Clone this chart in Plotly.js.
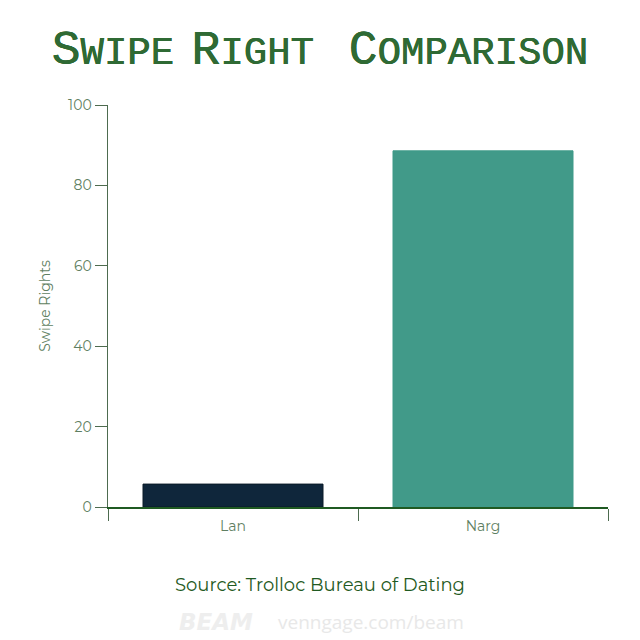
<!DOCTYPE html>
<html><head><meta charset="utf-8">
<script src="https://cdn.plot.ly/plotly-3.0.1.min.js"></script>
<style>html,body{margin:0;padding:0;background:#fff}</style>
</head><body>
<div id="chart" style="width:640px;height:640px"></div>
<script>
const categories = ["Lan", "Narg"];
const swipeRights = [5.7, 88.6];
const barColors = ["#0f263b", "#419a89"];
const yTicks = [0, 20, 40, 60, 80, 100];
const titleWords = [["S", "WIPE"], ["R", "IGHT"], ["C", "OMPARISON"]];
const titleSeparators = ["", " ", "  "];

const titleText = titleWords
  .map((w, i) => (titleSeparators[i] ? '<span style="font-size:29px">' + titleSeparators[i] + '</span>' : '') +
    w[0] + '<span style="font-size:39px">' + w[1] + '</span>')
  .join("");

const trace = {
  type: "bar",
  x: categories,
  y: swipeRights,
  width: 0.72,
  marker: {color: barColors, line: {color: ["#0a1a28", "#3f9a88"], width: 1}},
  hoverinfo: "none"
};

const tickFont = {family: "Montserrat, Open Sans, sans-serif", size: 14, color: "#5f7f62"};
const titleColor = "#2f6a34";

const layout = {
  width: 640, height: 640,
  margin: {l: 108, r: 32, t: 105, b: 133},
  paper_bgcolor: "#ffffff", plot_bgcolor: "#ffffff",
  showlegend: false,
  title: {
    text: titleText,
    x: 0.5, xanchor: "center", y: 0.926, yanchor: "middle",
    font: {family: "Liberation Mono, monospace", size: 48, color: titleColor, weight: "normal",
           shadow: "0.3px 0 0 " + titleColor + ", -0.3px 0 0 " + titleColor}
  },
  xaxis: {
    type: "category",
    range: [-0.5, 1.5],
    showline: true, linecolor: "#1f5a22", linewidth: 1.5,
    ticks: "outside", tickson: "boundaries", ticklen: 12, tickcolor: "#4d6b4f", tickwidth: 1,
    ticklabelstandoff: 6,
    tickfont: tickFont,
    showgrid: false, zeroline: false, fixedrange: true
  },
  yaxis: {
    range: [0, 100],
    tickvals: yTicks,
    showline: true, linecolor: "#4d6b4f", linewidth: 1.5,
    ticks: "outside", ticklen: 12, tickcolor: "#4d6b4f", tickwidth: 1,
    tickfont: tickFont,
    title: {text: "Swipe Rights", standoff: 14, font: tickFont},
    showgrid: false, zeroline: false, fixedrange: true
  },
  annotations: [
    {text: "Source: Trolloc Bureau of Dating", xref: "paper", yref: "paper", x: 0.424, y: -0.195,
     xanchor: "center", yanchor: "middle", showarrow: false,
     font: {family: "Montserrat, Open Sans, sans-serif", size: 18, color: "#1f5a22"}},
    {text: "<b><i>BEAM</i></b>", xref: "paper", yref: "paper", x: 0.138, y: -0.285,
     xanchor: "left", yanchor: "middle", showarrow: false,
     font: {family: "DejaVu Sans, sans-serif", size: 23, color: "#eeeeee"}},
    {text: "venngage.com/beam", xref: "paper", yref: "paper", x: 0.336, y: -0.285,
     xanchor: "left", yanchor: "middle", showarrow: false,
     font: {family: "Open Sans, sans-serif", size: 19, color: "#e8e8e8"}}
  ]
};

Plotly.newPlot("chart", [trace], layout, {displayModeBar: false, staticPlot: true});
</script>
</body></html>
